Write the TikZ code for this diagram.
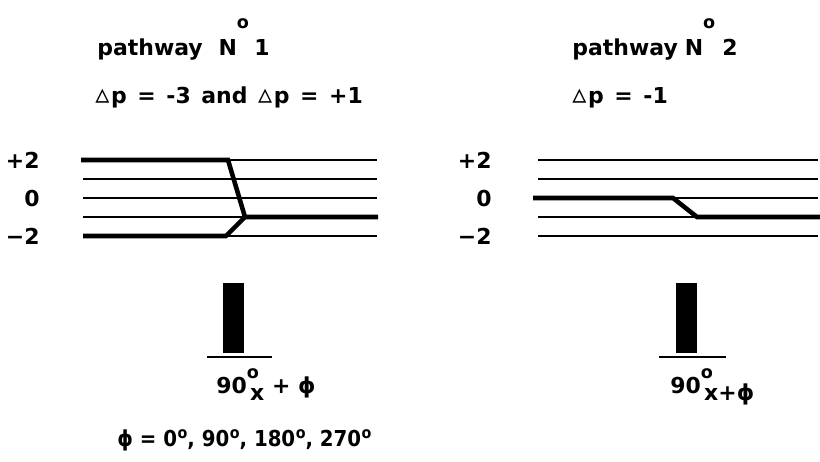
\documentclass[tikz,border=0pt]{standalone}
\usepackage{fontspec}
\setmainfont{DejaVu Sans}
\newfontfamily\trifont{DejaVu Sans}
\newfontfamily\narrowfont{DejaVu Sans Condensed}
\usetikzlibrary{positioning}
\newcommand{\hio}[1]{\raisebox{#1}{\fontsize{10}{12}\selectfont o}}
\newcommand{\smo}{\kern0.3pt\raisebox{4pt}{\fontsize{9}{10}\selectfont o}}
\newcommand{\dlt}{{\trifont\mdseries\fontsize{16}{16}\selectfont ▵}\kern1pt}
\newcommand{\wsp}{\hspace{6pt}}

\begin{document}
\begin{tikzpicture}[x=0.02cm,y=-0.02cm,
  lvl/.style={line width=0.8pt},
  coh/.style={line width=2.6pt},
  lab/.style={font=\bfseries\fontsize{12.5}{14}\selectfont, inner sep=0pt}]
\useasboundingbox (0,0) rectangle (820,461);
% coherence levels
\foreach \q in {2,1,0,-1,-2}{
  \draw[lvl] (83,{198-19*\q}) -- (377,{198-19*\q});
  \draw[lvl] (538,{198-19*\q}) -- (818,{198-19*\q});
}
\foreach \q/\t in {2/+2,0/0,-2/−2}{
  \node[lab, anchor=east] (la\q) at (40,{198-19*\q}) {\t};
  \node[lab, anchor=east] (ra\q) at (492,{198-19*\q}) {\t};
}
% pathway 1
\coordinate (a1) at (81,160);
\coordinate (a2) at (228,160);
\coordinate (a3) at (245,217);
\coordinate (a4) at (378,217);
\coordinate (b1) at (83,236);
\coordinate (b2) at (226,236);
\draw[coh] (a1) -- (a2) -- (a3) -- (a4);
\draw[coh] (b1) -- (b2) -- (a3);
% pathway 2
\coordinate (c1) at (533,198);
\coordinate (c2) at (673,198);
\coordinate (c3) at (697,217);
\coordinate (c4) at (820,217);
\draw[coh] (c1) -- (c2) -- (c3) -- (c4);
% pulses
\fill (223,283) rectangle (244,353);
\draw[lvl] (207,357) -- (272,357);
\fill (676,283) rectangle (697,353);
\draw[lvl] (659,357) -- (726,357);
% texts
\node[lab, anchor=base west] (t1) at (97,55) {pathway\hspace{9pt}N\hio{15pt}\hspace{3pt}1};
\node[lab, anchor=base west] (d1) at (95,103) {\dlt p\wsp=\wsp-3\wsp and\wsp\dlt p\wsp=\wsp+1};
\node[lab, anchor=base west] (t2) at (572,55) {pathway\hspace{4pt}N\hio{15pt}\hspace{4pt}2};
\node[lab, anchor=base west] (d2) at (572,103) {\dlt p\wsp=\wsp-1};
\node[lab, anchor=base west] (p1) at (216,393) {90\hio{8pt}\kern-5pt\raisebox{-4pt}{x} + ϕ};
\node[lab, anchor=base west] (p2) at (670,393) {90\hio{8pt}\kern-5pt\raisebox{-4pt}{x+ϕ}};
\node[lab, font=\bfseries\narrowfont\fontsize{12.5}{15}\selectfont, anchor=base west] (ph) at (117,446)
  {ϕ = 0\smo, 90\smo, 180\smo, 270\smo};
\end{tikzpicture}
\end{document}
